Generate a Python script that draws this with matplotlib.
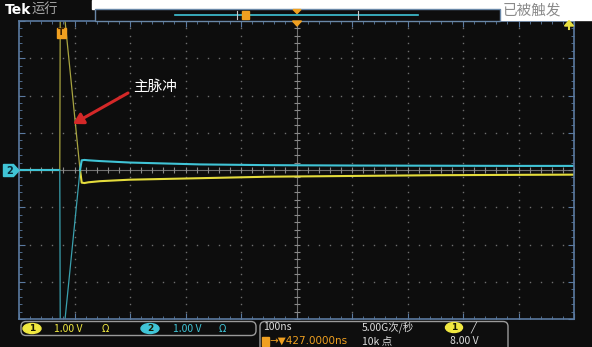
import matplotlib
matplotlib.use('Agg')
import matplotlib.pyplot as plt
from matplotlib.patches import Rectangle, FancyBboxPatch, Ellipse, Polygon, FancyArrowPatch
import numpy as np

plt.rcParams['font.family'] = ['Noto Sans CJK SC', 'DejaVu Sans']

# ---- data (time in ns, 100 ns/div; voltage in V, 1 V/div) ----
ch1_t = [0, 73.5, 74.5, 76, 83, 110, 113, 118, 125, 146, 200, 326, 450, 600, 750, 900, 1000]
ch1_v = [0, 0, 5.2, 5.0, 4.0, 0.0, -0.34, -0.35, -0.33, -0.30, -0.26, -0.22, -0.18, -0.16, -0.14, -0.13, -0.125]
ch2_t = [0, 73.5, 74.5, 76, 83, 110, 113, 118, 125, 146, 200, 326, 450, 600, 750, 900, 1000]
ch2_v = [0, 0, -5.2, -5.0, -4.0, 0.0, 0.26, 0.27, 0.26, 0.24, 0.20, 0.15, 0.13, 0.12, 0.115, 0.11, 0.11]
pulse_slice = slice(1, 6)

ch_scale = ["1.00 V", "1.00 V"]
timebase = "100ns"
sample_rate = "5.00G次/秒"
record_len = "10k 点"
trig_pos = "427.0000ns"
trig_level = "8.00 V"
annot = "主脉冲"

W, H = 592, 347
fig = plt.figure(figsize=(W / 100, H / 100), dpi=100)
fig.patch.set_facecolor('#0d0d0d')

# plot area in pixels
L, R, T, B = 19, 574, 21, 319
ax = fig.add_axes([L / W, (H - B) / H, (R - L) / W, (B - T) / H])
ax.set_facecolor('#0d0d0d')
ax.set_xlim(0, 1000)
ax.set_ylim(-4, 4)

YEL = '#e4dc3c'
CYN = '#40c4d6'
GRID = '#6e6e6e'

# dotted grid
for gy in range(-3, 4):
    if gy == 0:
        continue
    xs = np.arange(0, 1001, 20)
    ax.plot(xs, np.full_like(xs, gy, dtype=float), ls='none', marker='s', ms=1.0, color=GRID, mew=0)
for gx in range(100, 1000, 100):
    if gx == 500:
        continue
    ys = np.arange(-4, 4.01, 0.2)
    ax.plot(np.full_like(ys, gx, dtype=float), ys, ls='none', marker='s', ms=1.0, color=GRID, mew=0)
# center lines with ticks
ax.axhline(0, color='#8a8a8a', lw=0.8, alpha=0.8)
ax.axvline(500, color='#8a8a8a', lw=0.8, alpha=0.8)
xs = np.arange(0, 1001, 20)
ax.plot(xs, np.zeros_like(xs, dtype=float), ls='none', marker='|', ms=4, color='#8a8a8a', mew=0.8)
ys = np.arange(-4, 4.01, 0.2)
ax.plot(np.full_like(ys, 500.0), ys, ls='none', marker='_', ms=4, color='#8a8a8a', mew=0.8)

# traces
ax.plot(ch1_t[:2], ch1_v[:2], color=YEL, lw=1.5, solid_capstyle='butt')
ax.plot(ch1_t[pulse_slice], ch1_v[pulse_slice], color='#a8a440', lw=0.9)
ax.plot(ch1_t[5:], ch1_v[5:], color=YEL, lw=1.5)
ax.plot(ch2_t[:2], ch2_v[:2], color=CYN, lw=1.5, solid_capstyle='butt')
ax.plot(ch2_t[pulse_slice], ch2_v[pulse_slice], color='#3aa0ae', lw=0.9)
ax.plot(ch2_t[5:], ch2_v[5:], color=CYN, lw=1.5)

# frame and ticks
for s in ax.spines.values():
    s.set_color('#5a7aa0')
    s.set_linewidth(1.2)
ax.set_xticks(np.arange(0, 1001, 100))
ax.set_yticks(np.arange(-4, 5, 1))
ax.set_xticks(np.arange(0, 1001, 20), minor=True)
ax.set_yticks(np.arange(-4, 4.01, 0.2), minor=True)
ax.tick_params(which='both', direction='in', top=True, right=True, color='#5a7aa0',
               labelbottom=False, labelleft=False)
ax.tick_params(which='major', length=4)
ax.tick_params(which='minor', length=2.5)

# ---- overlay in pixel coordinates ----
ov = fig.add_axes([0, 0, 1, 1])
ov.set_xlim(0, W)
ov.set_ylim(H, 0)
ov.axis('off')
ov.patch.set_alpha(0)

# white regions at top
ov.add_patch(Rectangle((92, 0), W - 92, 9, color='white', zorder=1))
ov.add_patch(Rectangle((500, 0), W - 500, 20, color='white', zorder=1))

ov.text(5, 10, "Tek", color='white', fontsize=10, fontweight='bold', va='center', ha='left',
        family=['DejaVu Sans'])
ov.text(31, 10, "运行", color='#a8a8a8', fontsize=9.5, va='center', ha='left')
ov.text(503, 11, "已被触发", color='#8a8a8a', fontsize=10.5, va='center', ha='left', zorder=3)

# record view box
ov.add_patch(Rectangle((95, 9), 405, 11.5, facecolor='#0e0e0e', edgecolor='#6a88a8', lw=1, zorder=2))
ov.plot([175, 418], [14.5, 14.5], color=CYN, lw=1.2, zorder=3)
for tx in (237, 358):
    ov.plot([tx, tx], [11, 18.5], color='#c8c8c8', lw=0.8, zorder=3)
ov.add_patch(Rectangle((241.5, 10.5), 7, 8.5, color='#f0a020', zorder=4))
ov.add_patch(Polygon([(293, 9.5), (301, 9.5), (297, 13.5)], closed=True, color='#f0a020', zorder=4))

# trigger markers on graticule
ov.add_patch(Polygon([(292.5, 21), (301.5, 21), (297, 26)], closed=True, color='#f0a020', zorder=5))
ov.add_patch(Rectangle((56.5, 28), 9, 9.5, color='#f0a020', zorder=5))
ov.text(61, 32.8, "T", color='#3a2000', fontsize=6.5, fontweight='bold', ha='center', va='center',
        family=['DejaVu Sans'], zorder=6)
ov.add_patch(Polygon([(564.5, 26), (573.5, 26), (569, 20.5)], closed=True, color='#e8e040', zorder=5))
ov.plot([569, 569], [25, 29], color='#e8e040', lw=1.5, zorder=5)

# channel 2 marker
ov.add_patch(Polygon([(3.5, 164.5), (13.5, 164.5), (19, 170.5), (13.5, 176.5), (3.5, 176.5)],
                     closed=True, color=CYN, zorder=5))
ov.text(9.5, 170.8, "2", color='#0a2a38', fontsize=7, fontweight='bold', ha='center', va='center',
        family=['DejaVu Sans'], zorder=6)

# annotation
ov.text(133, 87, annot, color='white', fontsize=10.5, ha='left', va='center', zorder=6)
ov.add_patch(FancyArrowPatch((128, 93), (73, 124), arrowstyle='-|>,head_length=6,head_width=3.5',
                             color='#d42828', lw=2.2, zorder=6, shrinkA=0, shrinkB=0))

# status bar: channel box
ov.add_patch(FancyBboxPatch((21, 321.5), 235, 14, boxstyle='round,pad=0,rounding_size=5',
                            facecolor='#0e0e0e', edgecolor='#9a9a9a', lw=1.0, zorder=3))
for cx, col, lab, tx, sx, sc in [(32, '#f0e840', "1", 54, 105, ch_scale[0]),
                                 (150, CYN, "2", 173, 222, ch_scale[1])]:
    ov.add_patch(Ellipse((cx, 328.5), 18, 10, color=col, zorder=4))
    ov.text(cx, 328.8, lab, color='#1a1a00', fontsize=6.5, fontweight='bold', ha='center', va='center',
            family=['DejaVu Sans'], zorder=5)
    ov.text(tx, 328.5, sc, color=col, fontsize=7.5, ha='left', va='center', zorder=5)
    ov.text(sx, 328.5, "Ω", color=col, fontsize=7, ha='center', va='center', zorder=5,
            family=['DejaVu Sans'])

# status bar: timebase/trigger box
ov.add_patch(FancyBboxPatch((260, 321.5), 248, 40, boxstyle='round,pad=0,rounding_size=5',
                            facecolor='#0e0e0e', edgecolor='#9a9a9a', lw=1.0, zorder=3))
TXT = '#dcdcdc'
ov.text(263, 327.5, timebase, color=TXT, fontsize=7.5, ha='left', va='center', zorder=5)
ov.text(362, 327.5, sample_rate, color=TXT, fontsize=7.5, ha='left', va='center', zorder=5)
ov.add_patch(Ellipse((454, 327.5), 17, 10, color='#f0e840', zorder=4))
ov.text(454, 327.8, "1", color='#1a1a00', fontsize=6.5, fontweight='bold', ha='center', va='center',
        family=['DejaVu Sans'], zorder=5)
ov.text(470, 327.5, "╱", color=TXT, fontsize=7, ha='left', va='center', zorder=5,
        family=['DejaVu Sans'])
ov.add_patch(Rectangle((262, 336.5), 6.5, 9, color='#f0a020', zorder=4))
ov.text(269, 341, "→▼" + trig_pos, color='#f0a020', fontsize=7.5, ha='left', va='center', zorder=5,
        family=['DejaVu Sans'])
ov.text(362, 341, record_len, color=TXT, fontsize=7.5, ha='left', va='center', zorder=5)
ov.text(450, 341, trig_level, color=TXT, fontsize=7.5, ha='left', va='center', zorder=5)

fig.savefig('out.png', dpi=100, facecolor=fig.get_facecolor())
